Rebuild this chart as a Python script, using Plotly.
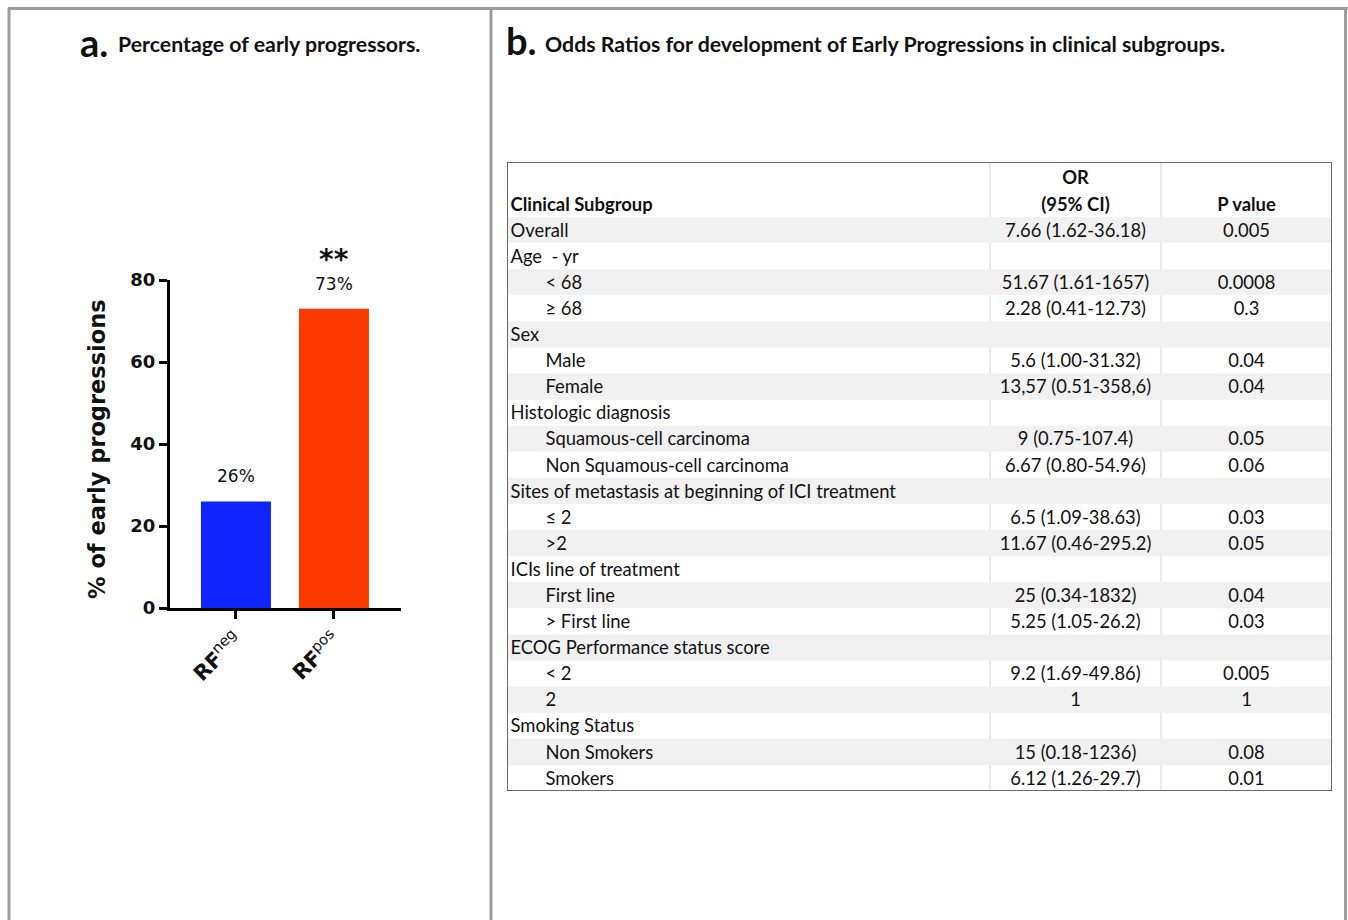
import plotly.graph_objects as go

# ---- Panel a: percentage of early progressors ----
GROUPS = ["RFneg", "RFpos"]
GROUP_LABELS = ["<b>RF</b><sup>neg</sup>", "<b>RF</b><sup>pos</sup>"]
PCT_EARLY = [26, 73]
Y_TICKS = [0, 20, 40, 60, 80]
SIGNIF = "**"

# ---- Panel b: odds ratios table ----
HEADER_TOP = ["", "OR", ""]
HEADER_BOTTOM = ["Clinical Subgroup", "(95% CI)", "P value"]
SUBGROUPS = [
    "Overall", "Age\u00a0 - yr", "< 68", "≥ 68", "Sex", "Male", "Female",
    "Histologic diagnosis", "Squamous-cell carcinoma", "Non Squamous-cell carcinoma",
    "Sites of metastasis at beginning of ICI treatment", "≤ 2", ">2",
    "ICIs line of treatment", "First line", "> First line",
    "ECOG Performance status score", "< 2", "2",
    "Smoking Status", "Non Smokers", "Smokers",
]
INDENT = [0, 0, 1, 1, 0, 1, 1, 0, 1, 1, 0, 1, 1, 0, 1, 1, 0, 1, 1, 0, 1, 1]
ODDS_RATIOS = [
    "7.66 (1.62-36.18)", "", "51.67 (1.61-1657)", "2.28 (0.41-12.73)", "",
    "5.6 (1.00-31.32)", "13,57 (0.51-358,6)", "", "9 (0.75-107.4)",
    "6.67 (0.80-54.96)", "", "6.5 (1.09-38.63)", "11.67 (0.46-295.2)", "",
    "25 (0.34-1832)", "5.25 (1.05-26.2)", "", "9.2 (1.69-49.86)", "1", "",
    "15 (0.18-1236)", "6.12 (1.26-29.7)",
]
P_VALUES = [
    "0.005", "", "0.0008", "0.3", "", "0.04", "0.04", "", "0.05", "0.06", "",
    "0.03", "0.05", "", "0.04", "0.03", "", "0.005", "1", "", "0.08", "0.01",
]

W, H = 1348, 920
BLUE, RED = "#1024ff", "#ff3a00"
PRISM = "DejaVu Sans"
CAL = "Lato"
FRAME = "#9c9c9c"
TXT = 18.4
BASELINE_NUDGE = 0.08  # text sits slightly low in each row


def px_x(v):
    return v / W


def px_y(v):
    return 1 - v / H


fig = go.Figure()

# bars
fig.add_trace(go.Bar(
    x=GROUPS, y=PCT_EARLY, marker=dict(color=[BLUE, RED], line=dict(width=0)),
    width=0.714, xaxis="x", yaxis="y", showlegend=False, hoverinfo="skip",
))

# value labels above bars
for g, v in zip(GROUPS, PCT_EARLY):
    fig.add_annotation(
        x=g, y=v, xref="x", yref="y", text=f"{v}%", showarrow=False,
        yanchor="bottom", yshift=13, font=dict(family=PRISM, size=17, color="#111"),
    )
fig.add_annotation(
    x=GROUPS[1], y=PCT_EARLY[1], xref="x", yref="y", text=SIGNIF, showarrow=False,
    yanchor="bottom", yshift=31, font=dict(family=PRISM, size=28, color="#111", weight="bold"),
)

# y title
fig.add_annotation(
    x=px_x(97), y=px_y(449), xref="paper", yref="paper", text="% of early progressions",
    textangle=-90, showarrow=False, xanchor="center", yanchor="middle",
    font=dict(family=PRISM, size=22.5, color="#111", weight="bold"),
)

# ---- table: row shading, dividers, text on its own axes ----
n_rows = len(SUBGROUPS)
HEAD_ROWS = 2.108
col_edges = [0.0, 483 / 825, 654 / 825, 1.0]
col_center = [(col_edges[i] + col_edges[i + 1]) / 2 for i in range(3)]
pad0, pad1 = 3.5 / 825, 38.5 / 825

for xe in col_edges[1:-1]:
    fig.add_shape(type="line", xref="x2", yref="y2", x0=xe, x1=xe, y0=-HEAD_ROWS, y1=n_rows,
                  line=dict(color="#d6d6d6", width=1), layer="below")
for i in range(0, n_rows, 2):
    fig.add_shape(type="rect", xref="x2", yref="y2", x0=0, x1=1, y0=i, y1=i + 1,
                  fillcolor="#f1f1f1", line=dict(width=0), layer="below")
fig.add_shape(type="rect", xref="x2", yref="y2", x0=0, x1=1, y0=-HEAD_ROWS, y1=n_rows,
              line=dict(color="#3a3a3a", width=1.5), layer="above")

rows_y = [i + 0.5 + BASELINE_NUDGE for i in range(n_rows)]
fig.add_trace(go.Scatter(
    x=[pad0 if lv == 0 else pad1 for lv in INDENT], y=rows_y, text=SUBGROUPS,
    mode="text", textposition="middle right", xaxis="x2", yaxis="y2",
    textfont=dict(family=CAL, size=TXT, color="#111"), showlegend=False, hoverinfo="skip",
))
fig.add_trace(go.Scatter(
    x=[col_center[1]] * n_rows, y=rows_y, text=ODDS_RATIOS, mode="text",
    textposition="middle center", xaxis="x2", yaxis="y2",
    textfont=dict(family=CAL, size=TXT, color="#111"), showlegend=False, hoverinfo="skip",
))
fig.add_trace(go.Scatter(
    x=[col_center[2]] * n_rows, y=rows_y, text=P_VALUES, mode="text",
    textposition="middle center", xaxis="x2", yaxis="y2",
    textfont=dict(family=CAL, size=TXT, color="#111"), showlegend=False, hoverinfo="skip",
))
fig.add_trace(go.Scatter(
    x=[pad0, col_center[1], col_center[2]], y=[-0.5 + BASELINE_NUDGE] * 3, text=HEADER_BOTTOM,
    mode="text", textposition=["middle right", "middle center", "middle center"],
    xaxis="x2", yaxis="y2",
    textfont=dict(family=CAL, size=TXT, color="#111", weight="bold"), showlegend=False, hoverinfo="skip",
))
fig.add_trace(go.Scatter(
    x=[pad0, col_center[1], col_center[2]], y=[-1.53 + BASELINE_NUDGE] * 3, text=HEADER_TOP,
    mode="text", textposition="middle center", xaxis="x2", yaxis="y2",
    textfont=dict(family=CAL, size=TXT, color="#111", weight="bold"), showlegend=False, hoverinfo="skip",
))

# ---- panel frames ----
fig.add_shape(type="line", xref="paper", yref="paper", x0=px_x(8), x1=1, y0=px_y(8.5), y1=px_y(8.5),
              line=dict(color=FRAME, width=3))
for xv in (9, 491, 1345.5):
    fig.add_shape(type="line", xref="paper", yref="paper", x0=px_x(xv), x1=px_x(xv),
                  y0=px_y(8), y1=0, line=dict(color=FRAME, width=3))

# ---- panel titles ----
fig.add_annotation(x=px_x(78), y=px_y(42), xref="paper", yref="paper", text="a.", showarrow=False,
                   xanchor="left", yanchor="middle", font=dict(family=CAL, size=38, color="#111", weight="bold"))
fig.add_annotation(x=px_x(116), y=px_y(44), xref="paper", yref="paper", text="Percentage of early progressors.",
                   showarrow=False, xanchor="left", yanchor="middle",
                   font=dict(family=CAL, size=21.3, color="#111", weight="bold"))
fig.add_annotation(x=px_x(504), y=px_y(40), xref="paper", yref="paper", text="b.", showarrow=False,
                   xanchor="left", yanchor="middle", font=dict(family=CAL, size=38, color="#111", weight="bold"))
fig.add_annotation(x=px_x(543), y=px_y(44), xref="paper", yref="paper",
                   text="Odds Ratios for development of Early Progressions in clinical subgroups.",
                   showarrow=False, xanchor="left", yanchor="middle",
                   font=dict(family=CAL, size=21.3, color="#111", weight="bold"))

fig.update_layout(
    width=W, height=H, margin=dict(l=0, r=0, t=0, b=0, pad=0, autoexpand=False),
    paper_bgcolor="white", plot_bgcolor="rgba(0,0,0,0)",
    xaxis=dict(
        domain=[px_x(170), px_x(401)], range=[-0.673, 1.684], automargin=False,
        tickvals=GROUPS, ticktext=GROUP_LABELS, tickangle=-45,
        showline=True, linecolor="black", linewidth=3,
        ticks="outside", ticklen=8, tickwidth=3, tickcolor="black",
        tickfont=dict(family=PRISM, size=21, color="#111"), showgrid=False, zeroline=False,
        fixedrange=True,
    ),
    yaxis=dict(
        domain=[px_y(608), px_y(280)], range=[0, 80], tickvals=Y_TICKS, automargin=False,
        showline=True, linecolor="black", linewidth=3,
        ticks="outside", ticklen=8, tickwidth=3, tickcolor="black", ticklabelstandoff=0,
        tickfont=dict(family=PRISM, size=18, color="#111", weight="bold"),
        showgrid=False, zeroline=False, fixedrange=True,
    ),
    xaxis2=dict(domain=[px_x(507), px_x(1332)], range=[0, 1], visible=False, fixedrange=True,
                automargin=False),
    yaxis2=dict(domain=[px_y(791), px_y(162)], range=[n_rows, -HEAD_ROWS], visible=False,
                fixedrange=True, automargin=False),
)

fig.write_html("out.html")
